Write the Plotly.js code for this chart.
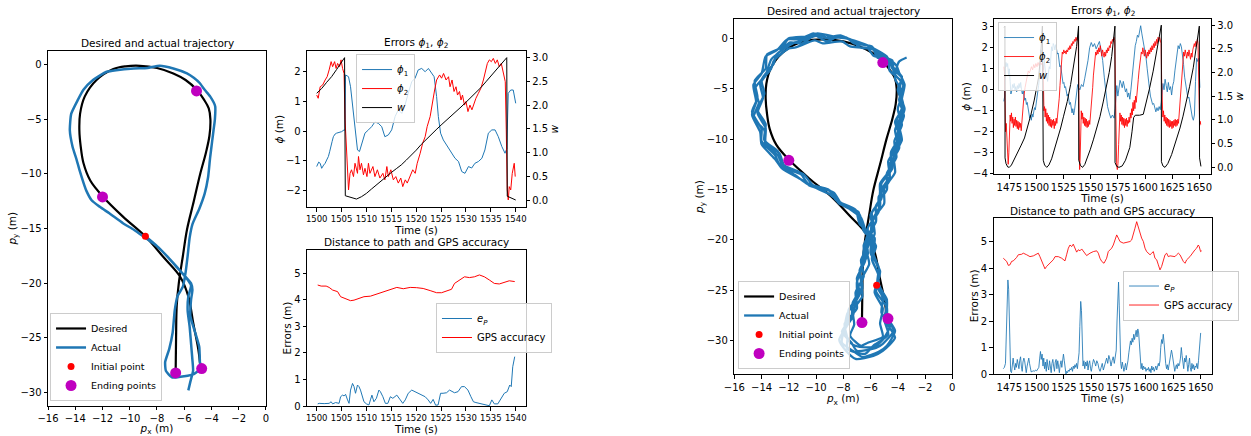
<!DOCTYPE html>
<html><head><meta charset="utf-8">
<script src="https://cdn.plot.ly/plotly-3.0.1.min.js"></script>
<style>body{margin:0;padding:0;background:#fff}#plot{width:1251px;height:436px}</style>
</head><body><div id="plot"></div>
<script>
// ---------------- DATA ----------------
const desiredPath = [[-6.63,-28.1],[-6.6,-25],[-6.55,-22],[-6.4,-20],[-6.1,-17.5],[-5.8,-15.1],[-5.3,-12.5],[-4.83,-10],[-4.4,-8],[-4.15,-6.5],[-4.08,-5],[-4.2,-4],[-4.55,-3.2],[-5.08,-2.3],[-5.9,-1.4],[-6.8,-0.8],[-8,-0.3],[-9.25,-0.1],[-10.3,-0.15],[-11.2,-0.4],[-12.44,-1.4],[-13.3,-2.9],[-13.65,-4.5],[-13.7,-6],[-13.6,-7.5],[-13.4,-9],[-12.9,-10.6],[-11.95,-12.1],[-10.5,-13.9],[-8.83,-15.75],[-7.53,-17.6],[-6.3,-19.4],[-5.7,-21.2],[-5.33,-23.7],[-4.96,-26.1],[-4.8,-27.8]];
const endingPoints = [[-5.1,-2.4],[-12.0,-12.1],[-6.63,-28.2],[-4.72,-27.8]];
const leftInitial = [[-8.85,-15.7]];
const rightInitial = [[-5.55,-24.5]];
const leftActual = [[-8.85,-15.7],[-8.0,-16.6],[-7.2,-17.6],[-6.5,-18.6],[-5.9,-19.4],[-5.5,-20.0],[-5.4,-20.6],[-5.5,-21.5],[-5.55,-23.0],[-5.2,-24.5],[-4.9,-25.8],[-4.85,-27.2],[-4.8,-27.8],[-5.3,-28.3],[-6.0,-28.5],[-6.9,-28.6],[-7.35,-28.0],[-7.4,-27.2],[-7.1,-26.0],[-6.85,-24.5],[-6.7,-22.5],[-6.5,-21.2],[-6.1,-20.3],[-5.9,-19.0],[-5.75,-17.5],[-5.6,-15.8],[-5.4,-14.6],[-4.9,-13.2],[-4.5,-11.8],[-4.25,-10.3],[-4.1,-8.5],[-3.95,-7],[-3.85,-6.0],[-3.75,-5.0],[-3.73,-3.8],[-4.1,-2.9],[-4.5,-2.3],[-4.85,-1.7],[-5.3,-1.2],[-5.8,-0.8],[-6.8,-0.35],[-7.8,-0.1],[-8.7,-0.3],[-9.7,-0.35],[-11.0,-0.5],[-11.7,-0.65],[-12.7,-1.4],[-13.4,-2.3],[-13.8,-3.2],[-14.3,-4.5],[-14.4,-6.0],[-14.2,-7.5],[-13.9,-8.7],[-13.7,-9.6],[-13.4,-10.8],[-13.2,-11.5],[-12.8,-12.4],[-12.2,-13.0],[-11.5,-13.6],[-10.5,-14.5],[-9.7,-15.1],[-8.9,-15.8],[-8.0,-16.6],[-7.2,-17.6],[-6.4,-18.7],[-5.8,-19.6],[-5.5,-20.2],[-5.7,-21.2],[-5.75,-22.5],[-5.6,-24.0],[-5.5,-25.5],[-5.4,-27.0],[-5.35,-28.0],[-5.55,-29.0],[-5.7,-29.8]];
const rightActual = [
[-5.55,-24.5],[-5.1,-25.8],[-5.2,-27.2],[-4.6,-28.6],[-5.1,-29.9],[-5.7,-30.6],[-6.8,-30.6],[-7.4,-30.3],[-7.9,-29.0],[-7.3,-27.6],[-7.1,-26.2],[-6.6,-24.8],[-6.8,-23.2],[-6.3,-21.7],[-6.4,-20.2],[-5.8,-18.8],[-5.9,-17.3],[-5.2,-15.9],[-5.2,-14.4],[-4.4,-12.9],[-4.5,-11.4],[-3.8,-9.9],[-4.2,-8.3],[-3.6,-6.8],[-4.0,-5.1],[-3.7,-3.9],[-4.4,-3.0],[-4.6,-2.2],[-5.5,-1.9],[-5.8,-1.1],[-6.8,-0.9],[-7.3,-0.2],[-8.3,0.2],[-9.2,-0.3],[-10.1,0.3],[-11.0,-0.5],[-11.9,-0.4],[-12.8,-1.5],[-13.3,-2.1],[-13.7,-3.6],[-14.5,-5.0],[-14.2,-6.4],[-14.6,-7.9],[-13.8,-9.1],[-13.7,-10.6],[-12.8,-11.6],[-12.4,-12.8],[-11.1,-13.5],[-10.5,-14.6],[-9.0,-15.1],[-8.3,-16.4],[-6.9,-17.2],[-6.6,-18.7],[-5.7,-19.8],[-5.8,-21.3],[-5.4,-22.8],
[-5.4,-24.4],[-4.8,-26.0],[-4.8,-27.6],[-4.2,-29.0],[-4.8,-30.5],[-5.4,-31.1],[-6.6,-31.6],[-7.3,-31.0],[-8.1,-30.2],[-7.9,-28.6],[-7.7,-27.3],[-7.0,-25.8],[-7.0,-24.2],[-6.6,-22.6],[-6.5,-21.0],[-6.0,-19.6],[-5.9,-18.1],[-5.3,-16.6],[-5.3,-15.2],[-4.6,-13.7],[-4.7,-12.2],[-4.0,-10.6],[-4.2,-9.1],[-3.7,-7.5],[-3.7,-6.0],[-3.5,-4.6],[-3.9,-3.4],[-4.1,-2.7],[-4.9,-1.8],[-5.4,-1.4],[-6.4,-0.6],[-7.1,-0.4],[-8.2,0.3],[-9.2,0.1],[-10.2,0.5],[-11.2,-0.1],[-12.1,-0.1],[-12.9,-1.2],[-13.7,-1.8],[-14.0,-3.5],[-14.6,-4.6],[-14.4,-6.3],[-14.7,-7.6],[-14.1,-9.3],[-14.0,-10.5],[-13.0,-12.0],[-12.5,-12.9],[-11.1,-14.0],[-10.4,-14.6],[-8.8,-15.6],[-8.1,-16.4],[-6.7,-17.8],[-6.4,-18.9],[-5.6,-20.6],[-5.9,-21.9],
[-5.4,-23.6],[-5.7,-25.2],[-5.1,-26.8],[-5.3,-28.3],[-5.1,-29.6],[-6.2,-30.2],[-6.7,-30.5],[-7.5,-29.5],[-7.2,-28.4],[-7.3,-27.0],[-6.6,-25.6],[-6.7,-24.0],[-6.1,-22.4],[-6.3,-20.9],[-5.7,-19.4],[-5.8,-17.9],[-5.0,-16.4],[-5.0,-14.9],[-4.2,-13.3],[-4.3,-11.7],[-3.7,-10.1],[-3.9,-8.6],[-3.5,-7.0],[-3.9,-5.5],[-3.8,-4.2],[-4.6,-3.2],[-4.7,-2.2],[-5.8,-1.7],[-6.2,-1.0],[-7.5,-0.8],[-8.1,-0.3],[-9.5,-0.5],[-10.1,-0.2],[-11.5,-0.9],[-12.0,-1.0],[-13.1,-2.2],[-13.3,-3.0],[-14.1,-4.5],[-13.9,-5.9],[-14.3,-7.4],[-13.7,-8.9],[-13.7,-10.4],[-12.7,-11.4],[-12.3,-12.7],[-10.9,-13.5],[-10.2,-14.6],[-8.7,-15.3],[-8.1,-16.5],[-6.8,-17.5],[-6.5,-19.1],[-5.7,-20.3],[-5.9,-21.9],
[-5.4,-23.5],[-5.6,-25.1],[-4.8,-26.7],[-4.8,-28.2],[-4.2,-29.7],[-5.1,-31.0],[-5.8,-31.5],[-7.1,-31.8],[-7.8,-31.0],[-8.3,-29.9],[-7.7,-28.4],[-7.6,-26.9],[-6.8,-25.4],[-7.0,-23.8],[-6.4,-22.1],[-6.5,-20.5],[-5.8,-19.0],[-6.0,-17.5],[-5.3,-16.0],[-5.3,-14.4],[-4.5,-12.9],[-4.5,-11.3],[-3.9,-9.8],[-4.1,-8.2],[-3.6,-6.6],[-3.9,-5.0],[-3.7,-3.8],[-4.6,-2.5],[-4.8,-1.8],[-5.9,-0.9],[-6.4,-0.6],[-7.8,0.0],[-8.4,0.1],[-9.9,0.5],[-10.6,0.2],[-12.0,0.0],[-12.5,-0.9],[-13.6,-1.6],[-13.7,-3.0],[-14.5,-4.2],[-14.3,-5.9],[-14.7,-7.3],[-14.0,-9.0],[-14.0,-10.2],[-13.0,-11.6],[-12.7,-12.5],[-11.4,-13.7],[-10.7,-14.4],[-9.1,-15.4],[-8.4,-16.1],[-7.0,-17.4],[-6.7,-18.5],[-5.8,-20.1],[-5.9,-21.4],
[-5.3,-23.1],[-5.5,-24.7],[-4.8,-26.3],[-5.0,-27.9],[-4.7,-29.4],[-5.8,-30.5],[-6.4,-31.3],[-7.7,-30.8],[-7.7,-29.8],[-7.9,-28.3],[-7.0,-26.8],[-7.1,-25.2],[-6.5,-23.6],[-6.7,-22.0],[-6.1,-20.4],[-6.2,-18.8],[-5.4,-17.2],[-5.4,-15.7],[-4.6,-14.1],[-4.6,-12.5],[-3.9,-10.9],[-4.0,-9.3],[-3.55,-7.7],[-3.9,-6.1],[-3.6,-4.6],[-4.3,-3.4],[-4.4,-2.2],[-5.5,-1.6],[-5.9,-0.8],[-7.2,-0.5],[-7.8,0.1],[-9.2,0.0],[-9.8,0.3],[-11.2,-0.3],[-11.7,-0.5],[-12.9,-1.6],[-13.1,-2.5],[-14.0,-4.1],[-13.8,-5.5],[-14.3,-7.1],[-13.7,-8.5],[-13.8,-10.1],[-12.8,-11.2],[-12.5,-12.5],[-11.2,-13.3],[-10.6,-14.4],[-9.1,-15.0],[-8.5,-16.1],[-7.1,-17.0],[-6.8,-18.4],[-5.9,-19.6],[-6.0,-21.3],[-5.4,-22.7],
[-5.5,-24.3],[-4.8,-25.9],[-4.9,-27.5],[-4.3,-29.0],[-5.1,-30.3],[-5.6,-30.7],[-7.0,-31.0],[-7.4,-30.2],[-8.1,-29.1],[-7.4,-27.7],[-7.3,-26.2],[-6.6,-24.6],[-6.8,-23.0],[-6.2,-21.4],[-6.3,-19.8],[-5.6,-18.2],[-5.6,-16.6],[-4.8,-15.0],[-4.8,-13.4],[-4.1,-11.8],[-4.25,-10.2],[-3.7,-8.6],[-4.0,-7.0],[-3.65,-5.4],[-4.2,-4.0],[-4.1,-3.0],[-3.9,-2.3],[-3.35,-1.9]];

// left time series (t, value)
const phi1Left = [[1500.0,-1.20],[1500.4,-1.05],[1500.7,-1.09],[1501.0,-1.26],[1501.4,-1.15],[1501.7,-1.09],[1502.0,-0.98],[1502.35,-0.86],[1502.6,-0.70],[1502.8,-0.52],[1503.1,-0.35],[1503.35,-0.19],[1503.7,-0.10],[1504.0,-0.07],[1504.5,-0.04],[1505.0,-0.02],[1505.5,0.04],[1505.7,0.03],[1505.8,1.90],[1506.1,1.86],[1506.4,1.84],[1506.8,1.50],[1507.1,1.00],[1507.4,0.60],[1507.9,-0.19],[1508.2,-0.64],[1508.6,-0.69],[1509.05,-0.41],[1509.4,-0.20],[1509.7,-0.07],[1510.4,0.04],[1511.05,0.15],[1511.7,0.31],[1512.4,0.26],[1513.07,0.15],[1513.7,-0.19],[1514.4,-0.13],[1515.07,0.04],[1515.75,0.49],[1516.4,0.72],[1517.1,0.60],[1517.75,0.88],[1518.4,1.28],[1519.1,1.67],[1519.77,1.79],[1520.4,2.07],[1521.1,2.12],[1521.8,2.01],[1522.45,2.12],[1523.1,1.95],[1523.6,1.84],[1524.1,1.17],[1524.45,0.49],[1524.9,-0.07],[1525.45,-0.30],[1526.1,-0.47],[1527.1,-0.75],[1527.8,-0.92],[1528.5,-1.03],[1529.15,-1.37],[1529.8,-1.43],[1530.5,-1.20],[1531.15,-1.25],[1531.8,-1.09],[1532.5,-1.03],[1533.2,-0.92],[1533.8,-0.64],[1534.5,-0.07],[1535.2,0.04],[1535.85,0.04],[1536.5,-0.19],[1537.2,-0.52],[1537.85,-0.75],[1538.2,-0.60],[1538.5,1.28],[1539.0,1.39],[1539.5,1.39],[1540.0,0.94]];
const phi2Left = [[1500.0,1.22],[1500.3,1.11],[1500.7,1.50],[1501.2,1.56],[1501.7,1.73],[1502.1,1.84],[1502.5,2.07],[1502.9,2.35],[1503.2,2.18],[1503.6,2.35],[1503.9,2.12],[1504.2,2.29],[1504.6,2.18],[1504.9,2.41],[1505.2,2.12],[1505.5,1.95],[1505.7,0.38],[1505.9,-0.41],[1506.2,-1.76],[1506.4,-1.99],[1506.7,-1.43],[1507.0,-1.31],[1507.4,-1.54],[1507.7,-1.09],[1508.2,-1.43],[1508.4,-0.86],[1508.7,-1.31],[1509.0,-1.09],[1509.4,-1.48],[1509.7,-1.26],[1510.1,-1.54],[1510.4,-1.09],[1510.7,-1.43],[1511.3,-1.20],[1511.7,-1.54],[1512.2,-1.31],[1512.7,-1.59],[1513.3,-1.43],[1513.7,-1.65],[1514.1,-1.20],[1514.4,-1.54],[1514.9,-1.31],[1515.4,-1.65],[1515.9,-1.54],[1516.4,-1.76],[1516.9,-1.59],[1517.3,-1.88],[1517.8,-1.65],[1518.2,-1.76],[1518.8,-1.54],[1519.3,-1.31],[1519.8,-1.43],[1520.2,-1.09],[1520.8,-0.75],[1521.3,-0.41],[1521.8,-0.19],[1522.2,0.15],[1522.8,0.49],[1523.2,0.94],[1523.7,1.39],[1524.1,1.73],[1524.7,1.90],[1525.1,1.79],[1525.5,1.95],[1526.0,1.73],[1526.5,1.84],[1526.8,1.50],[1527.2,1.73],[1527.6,1.34],[1528.0,1.50],[1528.3,1.22],[1528.7,1.34],[1529.0,1.05],[1529.3,1.22],[1529.7,0.88],[1530.0,1.00],[1530.4,0.66],[1530.8,0.88],[1531.2,0.72],[1531.6,0.94],[1532.0,1.11],[1532.5,1.28],[1533.0,1.45],[1533.5,1.73],[1534.0,2.07],[1534.3,2.29],[1534.7,2.41],[1535.1,2.35],[1535.5,2.46],[1535.9,2.29],[1536.3,2.41],[1536.7,2.18],[1537.1,2.29],[1537.5,1.95],[1537.9,1.67],[1538.1,0.04],[1538.3,-1.99],[1538.5,-2.33],[1538.7,-1.88],[1539.0,-1.99],[1539.3,-1.43],[1539.7,-1.09],[1539.9,-1.54]];
const wLeft = [[1500.0,2.25],[1501.0,2.35],[1502.0,2.48],[1503.0,2.60],[1504.0,2.75],[1505.0,2.90],[1505.6,3.00],[1505.75,0.09],[1506.5,0.07],[1507.3,0.04],[1508.0,0.02],[1509.0,0.07],[1510.0,0.14],[1511.0,0.23],[1512.0,0.32],[1513.0,0.42],[1514.0,0.50],[1515.0,0.58],[1516.0,0.66],[1517.0,0.74],[1518.0,0.84],[1519.0,0.94],[1520.0,1.05],[1521.0,1.17],[1522.0,1.28],[1523.0,1.39],[1524.0,1.48],[1525.0,1.58],[1526.0,1.67],[1527.0,1.76],[1528.0,1.86],[1529.0,1.96],[1530.0,2.06],[1531.0,2.16],[1532.0,2.27],[1533.0,2.37],[1534.0,2.49],[1535.0,2.61],[1536.0,2.73],[1537.0,2.84],[1538.0,2.97],[1538.2,3.00],[1538.3,0.08],[1539.0,0.05],[1540.0,0.00]];
const epLeft = [[1500.2,0.08],[1500.5,0.10],[1501.5,0.09],[1502.5,0.10],[1502.9,0.16],[1503.2,0.08],[1503.8,0.13],[1504.5,0.10],[1504.8,0.35],[1505.2,0.41],[1505.5,0.38],[1505.8,0.44],[1506.2,0.23],[1506.5,0.10],[1506.8,0.60],[1507.2,0.85],[1507.5,0.73],[1507.8,0.48],[1508.2,0.79],[1508.5,0.73],[1508.8,0.60],[1509.2,0.35],[1509.5,0.16],[1510.0,0.08],[1510.5,0.04],[1510.8,0.23],[1511.1,0.41],[1511.5,0.16],[1512.0,0.29],[1512.5,0.60],[1512.8,0.54],[1513.3,0.35],[1513.8,0.10],[1514.3,0.10],[1514.8,0.35],[1515.3,0.29],[1515.8,0.35],[1516.1,0.41],[1516.8,0.23],[1517.3,0.10],[1517.8,0.23],[1518.4,0.48],[1519.1,0.60],[1519.8,0.54],[1520.4,0.48],[1521.1,0.41],[1521.8,0.35],[1522.4,0.23],[1522.9,0.10],[1523.4,0.25],[1523.9,0.03],[1524.4,0.04],[1524.9,0.48],[1525.4,0.48],[1526.1,0.50],[1526.7,0.60],[1527.3,0.54],[1527.7,0.50],[1528.4,0.54],[1529.1,0.73],[1529.7,0.73],[1530.4,0.60],[1531.0,0.35],[1531.5,0.16],[1532.0,0.13],[1532.7,0.10],[1533.4,0.08],[1534.0,0.04],[1534.7,0.01],[1535.2,0.23],[1535.7,0.08],[1536.4,0.08],[1537.0,0.29],[1537.7,0.48],[1538.3,0.54],[1538.8,0.79],[1539.1,0.73],[1539.4,1.48],[1539.8,1.86]];
const gpsLeft = [[1500.2,4.56],[1500.9,4.52],[1501.9,4.52],[1502.5,4.47],[1503.2,4.37],[1504.2,4.31],[1504.8,4.12],[1505.8,4.03],[1506.8,3.97],[1507.5,3.99],[1508.5,4.06],[1509.5,4.12],[1510.8,4.14],[1512.1,4.22],[1513.5,4.31],[1514.8,4.40],[1516.1,4.47],[1517.4,4.42],[1518.8,4.47],[1520.1,4.46],[1521.4,4.43],[1522.8,4.35],[1524.1,4.27],[1525.1,4.27],[1526.1,4.35],[1527.1,4.40],[1527.7,4.62],[1528.7,4.75],[1529.7,4.87],[1530.7,4.84],[1531.7,4.87],[1532.7,4.94],[1533.7,4.87],[1534.7,4.75],[1535.7,4.62],[1536.7,4.60],[1537.7,4.65],[1538.7,4.72],[1539.8,4.69]];

// right time series (t, value)
const phi1Right = [[1470.0,-0.55],[1470.8,-0.30],[1471.3,1.00],[1472.0,1.30],[1472.8,1.10],[1473.5,1.25],[1474.3,0.70],[1475.0,1.00],[1475.8,0.40],[1476.5,-0.20],[1477.3,-0.05],[1478.0,0.25],[1478.8,0.10],[1479.5,0.30],[1480.3,0.00],[1481.0,0.15],[1481.8,-0.10],[1482.5,0.20],[1483.3,0.05],[1484.0,0.30],[1484.8,0.10],[1485.5,0.35],[1486.3,0.00],[1487.0,-0.20],[1487.8,-0.05],[1488.5,-0.35],[1489.3,-0.50],[1490.0,-0.40],[1490.8,-0.70],[1491.5,-0.60],[1492.3,-0.95],[1493.0,-1.05],[1493.8,-1.35],[1494.5,-1.20],[1495.3,-1.45],[1496.0,-1.15],[1496.8,-1.30],[1497.5,-1.05],[1498.3,-0.85],[1499.0,-0.95],[1499.8,-0.70],[1500.5,-0.40],[1501.3,-0.10],[1502.0,0.20],[1502.8,0.60],[1503.5,1.50],[1504.3,1.90],[1505.0,1.70],[1505.8,1.20],[1506.5,0.95],[1507.3,1.40],[1508.0,0.80],[1508.8,0.55],[1509.5,0.70],[1510.3,0.40],[1511.0,0.80],[1511.8,1.10],[1512.5,1.00],[1513.3,1.70],[1514.0,2.05],[1514.8,1.85],[1515.5,2.20],[1516.3,2.10],[1517.0,1.90],[1517.8,2.15],[1518.5,1.95],[1519.3,1.70],[1520.0,1.75],[1520.8,1.40],[1521.5,1.10],[1522.3,1.15],[1523.0,0.80],[1523.8,0.60],[1524.5,0.30],[1525.3,0.35],[1526.0,0.10],[1526.8,0.15],[1527.5,-0.05],[1528.3,-0.30],[1529.0,-0.20],[1529.8,-0.55],[1530.5,-0.70],[1531.3,-0.60],[1532.0,-0.95],[1532.8,-1.10],[1533.5,-0.90],[1534.3,-1.20],[1535.0,-1.00],[1535.8,-0.70],[1536.5,-0.40],[1537.3,-0.10],[1538.0,0.25],[1538.8,0.10],[1540.0,0.00],[1541.5,0.25],[1543.0,0.15],[1544.5,0.55],[1546.0,0.90],[1547.5,1.40],[1549.0,2.00],[1550.5,2.25],[1552.0,2.05],[1553.5,2.20],[1555.0,1.95],[1556.5,2.10],[1558.0,2.30],[1559.5,1.90],[1561.0,1.40],[1562.5,0.60],[1564.0,-0.20],[1565.5,-0.80],[1567.0,-1.10],[1568.5,-1.35],[1570.0,-1.20],[1571.5,-1.35],[1572.5,-0.90],[1573.0,-0.60],[1574.0,0.20],[1575.0,-0.30],[1576.0,0.10],[1577.0,0.45],[1578.0,0.30],[1579.0,0.10],[1580.0,0.40],[1581.0,0.15],[1582.0,-0.10],[1583.0,0.05],[1584.0,-0.35],[1585.0,-0.15],[1586.0,-0.45],[1587.0,0.00],[1588.0,0.60],[1589.0,1.20],[1590.0,1.70],[1591.0,2.10],[1592.0,2.30],[1593.0,2.60],[1594.0,2.50],[1595.0,2.80],[1596.0,3.05],[1597.0,2.70],[1598.0,2.40],[1599.0,2.20],[1600.0,1.90],[1601.0,1.50],[1602.0,1.00],[1603.0,0.40],[1604.0,0.10],[1605.0,-0.30],[1606.0,-0.50],[1607.0,-0.70],[1608.0,-0.65],[1609.0,-0.90],[1610.0,-1.05],[1611.0,-0.85],[1612.0,-1.00],[1613.0,-0.80],[1614.0,-0.95],[1615.0,-0.60],[1615.5,-0.20],[1616.5,0.30],[1617.5,0.00],[1618.5,0.50],[1619.5,0.20],[1620.5,-0.10],[1621.5,0.35],[1622.5,0.00],[1623.5,0.15],[1624.5,-0.25],[1625.5,0.20],[1626.5,0.40],[1627.5,0.90],[1628.5,1.40],[1629.5,1.90],[1630.5,2.10],[1631.5,1.95],[1632.5,2.20],[1633.5,2.05],[1634.5,1.70],[1635.5,1.20],[1636.5,0.60],[1637.5,0.20],[1638.5,-0.10],[1639.5,-0.40],[1640.5,-0.35],[1641.5,-0.75],[1642.5,-1.00],[1643.5,-1.30],[1644.5,-1.45],[1645.5,-1.20],[1646.5,0.40],[1647.5,1.50],[1648.5,1.35],[1649.5,1.50],[1650.5,0.10]];
const phi2Right = [[1470.0,1.1],[1470.6,0.8],[1471.1,-0.5],[1471.6,-2.0],[1472.2,-1.6],[1472.8,-2.6],[1473.4,-3.3],[1474.0,-3.55],[1474.6,-3.0],[1475.2,-2.0],[1475.8,-1.2],[1476.4,-1.5],[1477.0,-1.1],[1477.6,-1.6],[1478.2,-1.3],[1478.8,-1.8],[1479.4,-1.4],[1480.0,-1.7],[1480.6,-1.3],[1481.2,-1.75],[1481.8,-1.45],[1482.4,-1.85],[1483.0,-1.5],[1483.6,-1.9],[1484.2,-1.55],[1484.8,-1.8],[1485.4,-1.6],[1486.0,-1.95],[1486.6,-1.5],[1487.5,-1.0],[1488.5,-0.3],[1489.5,0.1],[1490.5,0.4],[1491.5,0.7],[1492.5,0.9],[1493.5,0.8],[1494.5,1.0],[1495.5,1.1],[1496.5,0.95],[1497.5,1.2],[1498.5,1.05],[1499.5,1.25],[1500.5,1.1],[1501.5,1.3],[1502.5,1.15],[1503.5,1.3],[1504.5,1.2],[1505.5,1.3],[1506.2,1.1],[1506.4,-0.6],[1506.9,-1.0],[1507.5,-0.8],[1508.0,-1.3],[1508.6,-0.9],[1509.2,-1.5],[1509.8,-1.1],[1510.4,-1.6],[1511.0,-1.2],[1511.6,-1.7],[1512.2,-1.3],[1512.8,-1.75],[1513.4,-1.4],[1514.0,-1.8],[1514.6,-1.45],[1515.2,-1.7],[1515.8,-1.4],[1516.4,-1.85],[1517.0,-1.5],[1517.6,-1.7],[1518.2,-1.35],[1518.8,-1.6],[1519.5,-1.2],[1520.2,-0.9],[1521.0,-0.4],[1521.7,0.2],[1522.4,0.9],[1523.1,1.5],[1523.8,1.8],[1524.5,1.7],[1525.2,1.9],[1525.9,1.75],[1526.6,1.85],[1527.3,1.7],[1528.0,1.9],[1528.7,1.8],[1529.4,2.0],[1530.1,1.9],[1530.8,2.1],[1531.5,1.95],[1532.2,2.2],[1532.9,2.1],[1533.6,2.3],[1534.3,2.2],[1535.0,2.4],[1535.7,2.3],[1536.4,2.5],[1537.1,2.35],[1537.8,2.5],[1538.5,2.3],[1538.9,0.5],[1539.3,-2.0],[1539.8,-3.8],[1540.3,-3.2],[1540.8,-1.8],[1541.3,-1.0],[1541.9,-1.4],[1542.5,-1.1],[1543.1,-1.6],[1543.7,-1.3],[1544.3,-1.7],[1544.9,-1.35],[1545.5,-1.75],[1546.1,-1.4],[1546.7,-1.8],[1547.3,-1.5],[1547.9,-1.75],[1548.5,-1.45],[1549.1,-1.65],[1549.7,-1.3],[1550.4,-1.0],[1551.1,-0.5],[1551.8,0.1],[1552.5,0.7],[1553.2,1.2],[1553.9,1.6],[1554.6,1.8],[1555.3,1.65],[1556.0,1.9],[1556.7,1.7],[1557.4,2.0],[1558.1,1.8],[1558.8,2.1],[1559.5,1.85],[1560.2,1.6],[1560.9,1.9],[1561.6,1.7],[1562.3,1.55],[1563.0,1.8],[1563.7,1.6],[1564.4,1.9],[1565.1,1.75],[1565.8,2.0],[1566.5,1.85],[1567.2,2.1],[1567.9,2.0],[1568.6,2.3],[1569.3,2.2],[1570.0,2.4],[1570.7,2.3],[1571.4,2.5],[1572.1,2.35],[1572.8,0.0],[1573.3,-2.5],[1573.9,-3.6],[1574.5,-3.8],[1575.1,-3.5],[1575.7,-2.6],[1576.3,-1.5],[1576.9,-1.1],[1577.5,-1.5],[1578.1,-1.2],[1578.7,-1.65],[1579.3,-1.3],[1579.9,-1.7],[1580.5,-1.35],[1581.1,-1.8],[1581.7,-1.4],[1582.3,-1.7],[1582.9,-1.35],[1583.5,-1.75],[1584.1,-1.45],[1584.7,-1.6],[1585.3,-1.3],[1585.9,-1.55],[1586.5,-1.1],[1587.1,-1.35],[1587.7,-0.9],[1588.3,-1.2],[1588.9,-0.6],[1589.5,-1.0],[1590.1,-0.5],[1590.7,-0.9],[1591.3,-0.3],[1591.9,-0.6],[1592.5,-0.1],[1593.1,0.2],[1593.8,0.5],[1594.5,0.9],[1595.2,1.2],[1595.9,1.5],[1596.6,1.8],[1597.3,1.7],[1598.0,2.0],[1598.7,1.8],[1599.4,1.6],[1600.1,1.9],[1600.8,1.7],[1601.5,1.5],[1602.2,1.8],[1602.9,1.6],[1603.6,1.9],[1604.3,1.7],[1605.0,2.0],[1605.7,1.8],[1606.4,2.1],[1607.1,1.9],[1607.8,2.2],[1608.5,2.0],[1609.2,2.3],[1609.9,2.1],[1610.6,2.4],[1611.3,2.2],[1612.0,2.5],[1612.7,2.3],[1613.4,2.5],[1614.1,2.4],[1614.8,2.2],[1615.3,0.5],[1615.8,-1.0],[1616.4,-1.3],[1617.0,-1.0],[1617.6,-1.5],[1618.2,-1.2],[1618.8,-1.6],[1619.4,-1.3],[1620.0,-1.7],[1620.6,-1.35],[1621.2,-1.75],[1621.8,-1.4],[1622.4,-1.8],[1623.0,-1.45],[1623.6,-1.75],[1624.2,-1.5],[1624.8,-1.85],[1625.4,-1.5],[1626.0,-1.8],[1626.6,-1.45],[1627.2,-1.7],[1627.8,-1.4],[1628.4,-1.75],[1629.0,-1.45],[1629.6,-1.7],[1630.2,-1.4],[1630.8,-1.6],[1631.4,-1.2],[1632.1,-0.7],[1632.8,-0.1],[1633.5,0.5],[1634.2,1.0],[1634.9,1.5],[1635.6,1.8],[1636.3,1.6],[1637.0,1.9],[1637.7,1.7],[1638.4,1.5],[1639.1,1.8],[1639.8,1.6],[1640.5,1.9],[1641.2,1.7],[1641.9,1.45],[1642.6,1.75],[1643.3,1.55],[1644.0,1.9],[1644.7,2.0],[1645.4,2.2],[1646.1,2.05],[1646.8,2.3],[1647.5,2.15],[1648.2,2.4],[1648.8,2.2],[1649.3,1.0],[1649.8,-1.4],[1650.3,-1.7],[1650.8,-1.5],[1651.3,-1.65]];
const wRight = [[1470.2,2.95],[1471.0,2.98],[1471.1,0.20],[1472.0,0.08],[1473.5,0.01],[1475.0,0.00],[1477.0,0.05],[1480.0,0.18],[1483.0,0.33],[1486.0,0.47],[1489.0,0.62],[1492.0,0.85],[1495.0,1.12],[1498.0,1.42],[1500.0,1.65],[1502.0,1.90],[1504.0,2.40],[1505.5,2.98],[1506.3,0.15],[1507.5,0.05],[1509.5,0.00],[1511.5,0.05],[1514.0,0.18],[1516.2,0.34],[1519.0,0.58],[1522.3,0.83],[1525.0,1.08],[1528.4,1.39],[1531.5,1.75],[1534.6,2.17],[1537.0,2.55],[1538.8,2.98],[1539.0,0.15],[1540.5,0.04],[1542.5,0.00],[1544.5,0.06],[1546.5,0.17],[1549.5,0.37],[1552.4,0.58],[1555.5,0.82],[1558.5,1.07],[1561.5,1.38],[1564.7,1.70],[1567.0,2.00],[1569.3,2.34],[1572.3,2.98],[1572.4,0.10],[1574.0,0.02],[1576.0,0.00],[1579.0,0.03],[1582.0,0.15],[1584.0,0.28],[1586.0,0.42],[1588.0,0.75],[1589.5,1.05],[1591.0,1.10],[1595.0,1.10],[1598.4,1.12],[1601.5,1.39],[1604.0,1.65],[1607.5,2.03],[1610.0,2.35],[1613.0,2.70],[1615.0,3.00],[1615.1,0.12],[1616.5,0.03],[1618.4,0.00],[1621.0,0.08],[1624.5,0.27],[1628.0,0.52],[1632.2,0.83],[1635.0,1.08],[1638.3,1.39],[1641.0,1.70],[1644.4,2.10],[1647.0,2.50],[1650.0,2.98],[1650.2,0.20],[1651.5,0.02]];
const epRight = [[1469.5,0.20],[1470.5,0.25],[1471.5,0.40],[1472.3,1.50],[1473.0,3.00],[1473.7,3.55],[1474.4,3.20],[1475.0,1.80],[1475.6,0.50],[1476.2,0.10],[1477.0,0.05],[1477.8,0.30],[1478.5,0.60],[1479.2,0.35],[1480.0,0.15],[1480.8,0.40],[1481.5,0.25],[1482.3,0.55],[1483.0,0.40],[1483.8,0.20],[1484.5,0.50],[1485.3,0.65],[1486.0,0.30],[1486.8,0.10],[1487.5,0.45],[1488.3,0.60],[1489.0,0.50],[1489.8,0.20],[1490.5,0.05],[1491.3,0.30],[1492.0,0.55],[1492.8,0.60],[1493.5,0.40],[1494.3,0.10],[1495.0,0.08],[1496.0,0.10],[1497.0,0.12],[1498.0,0.10],[1499.0,0.15],[1500.0,0.12],[1501.0,0.20],[1502.0,0.25],[1502.8,0.60],[1503.5,0.85],[1504.2,0.55],[1505.0,0.75],[1505.8,0.30],[1506.5,0.60],[1507.2,0.20],[1508.0,0.45],[1508.8,0.10],[1509.5,0.55],[1510.2,0.30],[1511.0,0.15],[1511.8,0.50],[1512.5,0.25],[1513.3,0.05],[1514.0,0.40],[1514.8,0.55],[1515.5,0.30],[1516.3,0.10],[1517.0,0.45],[1517.8,0.55],[1518.5,0.20],[1519.3,0.50],[1520.0,0.30],[1520.8,0.05],[1521.5,0.35],[1522.3,0.50],[1523.0,0.25],[1523.8,0.60],[1524.5,0.75],[1525.3,0.50],[1526.0,0.20],[1526.8,0.00],[1527.5,0.10],[1528.3,0.05],[1529.0,0.15],[1529.8,0.10],[1530.5,0.20],[1531.3,0.15],[1532.0,0.25],[1532.8,0.10],[1533.5,0.30],[1534.3,0.20],[1535.0,0.35],[1535.8,0.25],[1536.5,0.40],[1537.3,0.20],[1538.0,0.50],[1538.8,0.80],[1539.5,1.80],[1540.3,2.74],[1541.0,2.40],[1541.7,1.20],[1542.4,0.30],[1543.2,0.50],[1544.0,0.20],[1544.8,0.45],[1545.5,0.30],[1546.3,0.50],[1547.0,0.15],[1547.8,0.40],[1548.5,0.50],[1549.3,0.20],[1550.0,0.10],[1551.0,0.35],[1552.0,0.55],[1553.0,0.45],[1554.0,0.30],[1555.0,0.50],[1556.0,0.40],[1557.0,0.20],[1558.0,0.10],[1559.0,0.25],[1560.0,0.40],[1561.0,0.15],[1562.0,0.30],[1563.0,0.55],[1564.0,0.60],[1565.0,0.40],[1566.0,0.70],[1567.0,0.55],[1568.0,0.30],[1569.0,0.50],[1570.0,0.65],[1571.0,0.40],[1572.0,0.60],[1572.8,0.90],[1573.5,2.00],[1574.2,3.10],[1574.9,3.47],[1575.5,2.60],[1576.2,1.20],[1576.9,0.40],[1577.6,0.20],[1578.3,0.45],[1579.0,0.30],[1579.8,0.10],[1580.5,0.25],[1581.3,0.40],[1582.0,0.15],[1582.8,0.30],[1583.5,0.50],[1584.3,0.80],[1585.0,1.00],[1585.8,1.25],[1586.5,1.10],[1587.3,1.35],[1588.0,1.20],[1588.8,1.50],[1589.5,1.30],[1590.3,1.45],[1591.0,1.65],[1591.8,1.40],[1592.5,1.70],[1593.3,1.55],[1594.0,1.20],[1594.8,0.60],[1595.5,0.20],[1596.3,0.40],[1597.0,0.15],[1597.8,0.30],[1598.5,0.20],[1599.3,0.25],[1600.0,0.10],[1600.8,0.20],[1601.5,0.15],[1602.3,0.25],[1603.0,0.10],[1603.8,0.20],[1604.5,0.05],[1605.3,0.30],[1606.0,0.15],[1606.8,0.25],[1607.5,0.10],[1608.3,0.20],[1609.0,0.30],[1609.8,0.15],[1610.5,0.25],[1611.3,0.40],[1612.0,0.30],[1612.8,0.50],[1613.5,1.00],[1614.3,1.30],[1615.0,1.15],[1615.8,1.50],[1616.5,1.20],[1617.3,0.70],[1618.0,0.40],[1618.8,0.20],[1619.5,0.35],[1620.3,0.15],[1621.0,0.30],[1621.8,0.50],[1622.5,0.60],[1623.3,0.90],[1624.0,0.75],[1624.8,0.50],[1625.5,0.30],[1626.3,0.10],[1627.0,0.25],[1627.8,0.35],[1628.5,0.20],[1629.3,0.40],[1630.0,0.30],[1630.8,0.40],[1631.5,0.60],[1632.3,1.00],[1633.0,0.70],[1633.8,0.50],[1634.5,0.20],[1635.3,0.60],[1636.0,0.45],[1636.8,0.70],[1637.5,0.30],[1638.3,0.10],[1639.0,0.35],[1639.8,0.60],[1640.5,0.25],[1641.3,0.10],[1642.0,0.40],[1642.8,0.20],[1643.5,0.35],[1644.3,0.15],[1645.0,0.30],[1645.8,0.25],[1646.5,0.40],[1647.3,0.20],[1648.0,0.50],[1648.8,0.90],[1649.5,1.50],[1650.0,1.55]];
const gpsRight = [[1469.5,4.37],[1471.0,4.31],[1472.6,4.25],[1474.1,4.10],[1475.6,4.12],[1477.1,4.25],[1478.7,4.27],[1481.7,4.40],[1483.2,4.50],[1486.3,4.52],[1487.8,4.56],[1490.9,4.50],[1493.9,4.43],[1497.0,4.46],[1500.0,4.52],[1501.5,4.56],[1503.0,4.43],[1504.6,4.25],[1506.1,4.06],[1507.6,3.97],[1509.1,4.06],[1512.2,4.18],[1515.2,4.31],[1516.8,4.43],[1519.8,4.43],[1522.9,4.37],[1525.9,4.27],[1527.4,4.50],[1529.0,4.75],[1530.5,4.87],[1532.0,4.81],[1533.5,4.90],[1535.1,4.75],[1536.6,4.60],[1538.1,4.69],[1539.6,4.65],[1541.2,4.72],[1542.7,4.62],[1545.7,4.47],[1548.8,4.56],[1551.8,4.62],[1554.9,4.65],[1556.4,4.56],[1557.9,4.37],[1559.5,4.25],[1561.6,4.18],[1564.0,4.37],[1565.5,4.62],[1568.6,4.75],[1570.1,4.87],[1571.6,5.06],[1573.2,5.25],[1574.7,5.13],[1576.2,5.00],[1579.3,4.94],[1582.3,4.97],[1585.4,5.00],[1586.9,5.06],[1588.4,5.25],[1589.9,5.50],[1591.5,5.75],[1592.4,5.63],[1593.0,5.50],[1594.5,5.38],[1596.0,5.13],[1597.6,5.00],[1599.1,4.75],[1600.6,4.62],[1602.1,4.56],[1603.7,4.50],[1605.2,4.56],[1606.7,4.62],[1608.2,4.37],[1609.8,4.31],[1611.3,4.12],[1612.8,3.93],[1614.3,4.06],[1615.9,4.25],[1617.4,4.50],[1618.9,4.56],[1620.4,4.43],[1622.0,4.46],[1625.0,4.43],[1626.5,4.43],[1628.0,4.50],[1629.6,4.56],[1631.1,4.50],[1632.6,4.37],[1634.1,4.25],[1635.7,4.18],[1637.2,4.31],[1640.2,4.43],[1643.3,4.62],[1644.8,4.69],[1646.3,4.75],[1647.8,4.87],[1648.7,4.81],[1649.9,4.62],[1650.9,4.65]];

// ---------------- PLOT ----------------
const X = a => a.map(p => p[0]);
const Y = a => a.map(p => p[1]);
const BLUE = '#1f77b4', RED = '#ff0000', MAG = '#bf00bf';
const FONT = 'DejaVu Sans, sans-serif';

const traces = [
  {x:X(desiredPath), y:Y(desiredPath), xaxis:'x', yaxis:'y', mode:'lines', name:'Desired', line:{color:'black', width:2.2, shape:'spline', smoothing:1}, legend:'legend'},
  {x:X(leftActual), y:Y(leftActual), xaxis:'x', yaxis:'y', mode:'lines', name:'Actual', line:{color:BLUE, width:2.5, shape:'spline', smoothing:0.5}, legend:'legend'},
  {x:X(leftInitial), y:Y(leftInitial), xaxis:'x', yaxis:'y', mode:'markers', name:'Initial point', marker:{color:RED, size:7}, legend:'legend'},
  {x:X(endingPoints), y:Y(endingPoints), xaxis:'x', yaxis:'y', mode:'markers', name:'Ending points', marker:{color:MAG, size:11}, legend:'legend'},

  {x:X(phi1Left), y:Y(phi1Left), xaxis:'x2', yaxis:'y2', mode:'lines', name:'<i>ϕ</i><sub>1</sub>', line:{color:BLUE, width:1}, legend:'legend2'},
  {x:X(phi2Left), y:Y(phi2Left), xaxis:'x2', yaxis:'y2', mode:'lines', name:'<i>ϕ</i><sub>2</sub>', line:{color:RED, width:1}, legend:'legend2'},
  {x:X(wLeft), y:Y(wLeft), xaxis:'x2', yaxis:'y3', mode:'lines', name:'<i>w</i>', line:{color:'black', width:1}, legend:'legend2'},

  {x:X(epLeft), y:Y(epLeft), xaxis:'x3', yaxis:'y4', mode:'lines', name:'<i>e</i><sub><i>P</i></sub>', line:{color:BLUE, width:1}, legend:'legend3'},
  {x:X(gpsLeft), y:Y(gpsLeft), xaxis:'x3', yaxis:'y4', mode:'lines', name:'GPS accuracy', line:{color:RED, width:1}, legend:'legend3'},

  {x:X(desiredPath), y:Y(desiredPath), xaxis:'x4', yaxis:'y5', mode:'lines', name:'Desired', line:{color:'black', width:2.2, shape:'spline', smoothing:1}, legend:'legend4'},
  {x:X(rightActual), y:Y(rightActual), xaxis:'x4', yaxis:'y5', mode:'lines', name:'Actual', line:{color:BLUE, width:2.3, shape:'spline', smoothing:0.6}, legend:'legend4'},
  {x:X(rightInitial), y:Y(rightInitial), xaxis:'x4', yaxis:'y5', mode:'markers', name:'Initial point', marker:{color:RED, size:7}, legend:'legend4'},
  {x:X(endingPoints), y:Y(endingPoints), xaxis:'x4', yaxis:'y5', mode:'markers', name:'Ending points', marker:{color:MAG, size:11}, legend:'legend4'},

  {x:X(phi1Right), y:Y(phi1Right), xaxis:'x5', yaxis:'y6', mode:'lines', name:'<i>ϕ</i><sub>1</sub>', opacity:0.85, line:{color:BLUE, width:1}, legend:'legend5'},
  {x:X(phi2Right), y:Y(phi2Right), xaxis:'x5', yaxis:'y6', mode:'lines', name:'<i>ϕ</i><sub>2</sub>', opacity:0.85, line:{color:RED, width:1}, legend:'legend5'},
  {x:X(wRight), y:Y(wRight), xaxis:'x5', yaxis:'y7', mode:'lines', name:'<i>w</i>', line:{color:'black', width:1}, legend:'legend5'},

  {x:X(epRight), y:Y(epRight), xaxis:'x6', yaxis:'y8', mode:'lines', name:'<i>e</i><sub><i>P</i></sub>', opacity:0.85, line:{color:BLUE, width:1}, legend:'legend6'},
  {x:X(gpsRight), y:Y(gpsRight), xaxis:'x6', yaxis:'y8', mode:'lines', name:'GPS accuracy', opacity:0.85, line:{color:RED, width:1}, legend:'legend6'}
];

const tickFont = {family:FONT, size:10, color:'black'};
const titleFont = {family:FONT, size:10.5, color:'black'};
function ax(extra){
  return Object.assign({showline:true, linecolor:'black', linewidth:1, mirror:true, ticks:'outside', ticklen:3.5, tickwidth:1, tickcolor:'black', tickangle:0, showgrid:false, zeroline:false, tickfont:tickFont, fixedrange:true}, extra);
}
function leg(x, y, ya, fs){
  return {x:x, y:y, xanchor:'left', yanchor:ya, bgcolor:'rgba(255,255,255,0.8)', bordercolor:'#cccccc', borderwidth:1, font:{family:FONT, size:fs || 10, color:'black'}, itemwidth:30, tracegroupgap:0};
}
function title(text, x, y){
  return {text:text, xref:'paper', yref:'paper', x:x, y:y, xanchor:'center', yanchor:'middle', showarrow:false, font:{family:FONT, size:10.5, color:'black'}};
}

const layout = {
  width:1251, height:436, margin:{l:0, r:0, t:0, b:0}, autosize:false,
  paper_bgcolor:'white', plot_bgcolor:'white', font:{family:FONT, color:'black'},
  xaxis: ax({domain:[0.0384,0.2126], range:[-16,0], dtick:2, anchor:'y', title:{text:'<i>p</i><sub>x</sub> (m)', font:titleFont, standoff:0}}),
  yaxis: ax({domain:[0.0695,0.8837], range:[-31.2,1.28], dtick:5, anchor:'x', title:{text:'<i>p</i><sub>y</sub> (m)', font:titleFont, standoff:0}}),
  xaxis2: ax({domain:[0.2456,0.4202], range:[1498.1,1542], dtick:5, anchor:'y2', tickfont:{family:FONT, size:8.5, color:'black'}, title:{text:'Time (s)', font:titleFont, standoff:0}}),
  yaxis2: ax({domain:[0.5245,0.883], range:[-2.58,2.71], dtick:1, anchor:'x2', mirror:false, title:{text:'<i>ϕ</i> (m)', font:titleFont, standoff:0}}),
  yaxis3: ax({overlaying:'y2', side:'right', anchor:'x2', range:[-0.154,3.14], dtick:0.5, tickformat:'.1f', mirror:false, title:{text:'<i>w</i>', font:titleFont, standoff:0}}),
  xaxis3: ax({domain:[0.2456,0.4202], range:[1498.1,1542], dtick:5, anchor:'y4', tickfont:{family:FONT, size:8.5, color:'black'}, title:{text:'Time (s)', font:titleFont, standoff:0}}),
  yaxis4: ax({domain:[0.0688,0.4266], range:[0,5.88], dtick:1, anchor:'x3', title:{text:'Errors (m)', font:titleFont, standoff:0}}),
  xaxis4: ax({domain:[0.587,0.7612], range:[-16,0], dtick:2, anchor:'y5', title:{text:'<i>p</i><sub>x</sub> (m)', font:titleFont, standoff:0}}),
  yaxis5: ax({domain:[0.1422,0.9564], range:[-33.3,1.92], dtick:5, anchor:'x4', title:{text:'<i>p</i><sub>y</sub> (m)', font:titleFont, standoff:0}}),
  xaxis5: ax({domain:[0.7948,0.9678], range:[1461.2,1660.5], dtick:25, anchor:'y6', title:{text:'Time (s)', font:titleFont, standoff:0}}),
  yaxis6: ax({domain:[0.6009,0.9564], range:[-4.01,3.37], dtick:1, anchor:'x5', mirror:false, title:{text:'<i>ϕ</i> (m)', font:titleFont, standoff:0}}),
  yaxis7: ax({overlaying:'y6', side:'right', anchor:'x5', range:[-0.14,3.13], dtick:0.5, tickformat:'.1f', mirror:false, title:{text:'<i>w</i>', font:titleFont, standoff:0}}),
  xaxis6: ax({domain:[0.7943,0.9686], range:[1460.7,1660.1], dtick:25, anchor:'y8', title:{text:'Time (s)', font:titleFont, standoff:0}}),
  yaxis8: ax({domain:[0.1422,0.5007], range:[0,5.9], dtick:1, anchor:'x6', title:{text:'Errors (m)', font:titleFont, standoff:0}}),
  legend: leg(0.0400, 0.0803, 'bottom', 9.5),
  legend2: leg(0.2846, 0.876, 'top'),
  legend3: leg(0.3485, 0.2477, 'middle'),
  legend4: leg(0.5900, 0.1537, 'bottom', 9.5),
  legend5: leg(0.7978, 0.9495, 'top'),
  legend6: leg(0.8977, 0.3222, 'middle'),
  annotations: [
    title('Desired and actual trajectory', 0.1255, 1-43/436),
    title('Errors <i>ϕ</i><sub>1</sub>, <i>ϕ</i><sub>2</sub>', 0.3329, 1-43/436),
    title('Distance to path and GPS accuracy', 0.3329, 1-242/436),
    title('Desired and actual trajectory', 0.6741, 1-11.5/436),
    title('Errors <i>ϕ</i><sub>1</sub>, <i>ϕ</i><sub>2</sub>', 0.8813, 1-11.5/436),
    title('Distance to path and GPS accuracy', 0.8814, 1-210.5/436)
  ]
};

Plotly.newPlot('plot', traces, layout, {staticPlot:true, displayModeBar:false});
</script>
</body></html>
